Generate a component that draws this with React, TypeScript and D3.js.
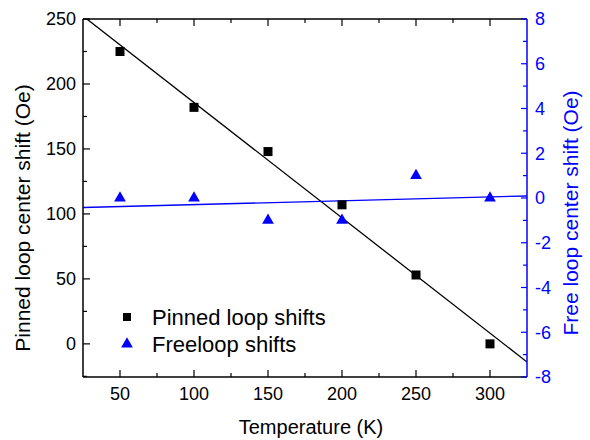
import React from "react";
import * as d3 from "d3";

const temperatures = [50, 100, 150, 200, 250, 300];
const pinnedShifts = [225, 182, 148, 107, 53, 0];
const freeShifts = [0, 0, -1, -1, 1, 0];
const xTicks = [50, 100, 150, 200, 250, 300];
const yLeftTicks = [0, 50, 100, 150, 200, 250];
const yRightTicks = [-8, -6, -4, -2, 0, 2, 4, 6, 8];

const W = 590, H = 440;
const M = { left: 83, right: 527, top: 19, bottom: 377 };
const FONT = "Arial, 'Liberation Sans', Helvetica, sans-serif";
const BLUE = "#0000ff";

function fit(xs: number[], ys: number[]) {
  const mx = d3.mean(xs)!, my = d3.mean(ys)!;
  let sxy = 0, sxx = 0;
  xs.forEach((x, i) => { sxy += (x - mx) * (ys[i] - my); sxx += (x - mx) ** 2; });
  const b = sxy / sxx;
  return (x: number) => my + b * (x - mx);
}

export default function App() {
  const x = d3.scaleLinear().domain([25, 325]).range([M.left, M.right]);
  const yL = d3.scaleLinear().domain([-25.5, 250]).range([M.bottom, M.top]);
  const yR = d3.scaleLinear().domain([-8, 8]).range([M.bottom, M.top]);
  const pf = fit(temperatures, pinnedShifts);
  const ff = fit(temperatures, freeShifts);
  const xMinor = d3.range(25, 326, 25).filter((v) => !xTicks.includes(v) && v > 25 && v < 325);
  const yLMinor = [-25, 25, 75, 125, 175, 225];
  const yRMinor = d3.range(-7, 8, 2);
  const line = d3.line<number>().x((t) => x(t));
  const tri = d3.symbol().type(d3.symbolTriangle).size(60)();
  return (
    <svg width={W} height={H} style={{ position: "absolute", left: 0, top: 0, background: "#fff" }} fontFamily={FONT}>
      <defs>
        <clipPath id="plot">
          <rect x={M.left} y={M.top} width={M.right - M.left} height={M.bottom - M.top} />
        </clipPath>
      </defs>
      <rect width={W} height={H} fill="#fff" />
      {/* fit lines */}
      <g clipPath="url(#plot)">
        <path d={line.y((t) => yL(pf(t)))([25, 325])!} stroke="#000" strokeWidth={1.3} fill="none" />
        <path d={line.y((t) => yR(ff(t)))([25, 325])!} stroke={BLUE} strokeWidth={1.3} fill="none" />
      </g>
      {/* axes frame */}
      <line x1={M.left} x2={M.right} y1={M.top} y2={M.top} stroke="#000" strokeWidth={1.5} />
      <line x1={M.left} x2={M.right} y1={M.bottom} y2={M.bottom} stroke="#000" strokeWidth={1.5} />
      <line x1={M.left} x2={M.left} y1={M.top} y2={M.bottom} stroke="#000" strokeWidth={1.5} />
      <line x1={M.right} x2={M.right} y1={M.top} y2={M.bottom} stroke={BLUE} strokeWidth={1.5} />
      {/* x ticks */}
      {xTicks.map((t) => (
        <g key={"x" + t}>
          <line x1={x(t)} x2={x(t)} y1={M.bottom} y2={M.bottom - 7} stroke="#000" strokeWidth={1.2} />
          <line x1={x(t)} x2={x(t)} y1={M.top} y2={M.top + 7} stroke="#000" strokeWidth={1.2} />
          <text x={x(t)} y={400} textAnchor="middle" fontSize={18}>{t}</text>
        </g>
      ))}
      {xMinor.map((t) => (
        <g key={"xm" + t}>
          <line x1={x(t)} x2={x(t)} y1={M.bottom} y2={M.bottom - 4} stroke="#000" strokeWidth={1.2} />
          <line x1={x(t)} x2={x(t)} y1={M.top} y2={M.top + 4} stroke="#000" strokeWidth={1.2} />
        </g>
      ))}
      {/* left ticks */}
      {yLeftTicks.map((t) => (
        <g key={"yl" + t}>
          <line x1={M.left} x2={M.left + 7} y1={yL(t)} y2={yL(t)} stroke="#000" strokeWidth={1.2} />
          <text x={76} y={yL(t)} dy="0.36em" textAnchor="end" fontSize={18}>{t}</text>
        </g>
      ))}
      {yLMinor.map((t) => (
        <line key={"ylm" + t} x1={M.left} x2={M.left + 4} y1={yL(t)} y2={yL(t)} stroke="#000" strokeWidth={1.2} />
      ))}
      {/* right ticks */}
      {yRightTicks.map((t) => (
        <g key={"yr" + t}>
          <line x1={M.right} x2={M.right - 6} y1={yR(t)} y2={yR(t)} stroke={BLUE} strokeWidth={1.2} />
          <text x={535} y={yR(t)} dy="0.36em" textAnchor="start" fontSize={18} fill={BLUE}>{t}</text>
        </g>
      ))}
      {yRMinor.map((t) => (
        <line key={"yrm" + t} x1={M.right} x2={M.right - 4} y1={yR(t)} y2={yR(t)} stroke={BLUE} strokeWidth={1.2} />
      ))}
      {/* data points */}
      {temperatures.map((t, i) => (
        <rect key={"p" + t} x={x(t) - 4.5} y={yL(pinnedShifts[i]) - 4.5} width={9} height={9} fill="#000" />
      ))}
      {temperatures.map((t, i) => (
        <path key={"f" + t} d={tri!} transform={`translate(${x(t)},${yR(freeShifts[i])})`} fill={BLUE} />
      ))}
      {/* legend */}
      <rect x={127 - 4} y={317 - 4} width={8} height={8} fill="#000" />
      <path d={tri!} transform="translate(127,344)" fill={BLUE} />
      <text x={152} y={325} fontSize={22}>Pinned loop shifts</text>
      <text x={152} y={352} fontSize={22}>Freeloop shifts</text>
      {/* axis titles */}
      <text x={311} y={434} textAnchor="middle" fontSize={20}>Temperature (K)</text>
      <text transform={`translate(30,218) rotate(-90)`} textAnchor="middle" fontSize={21}>Pinned loop center shift (Oe)</text>
      <text transform={`translate(578,213) rotate(-90)`} textAnchor="middle" fontSize={21} fill={BLUE}>Free loop center shift (Oe)</text>
    </svg>
  );
}
